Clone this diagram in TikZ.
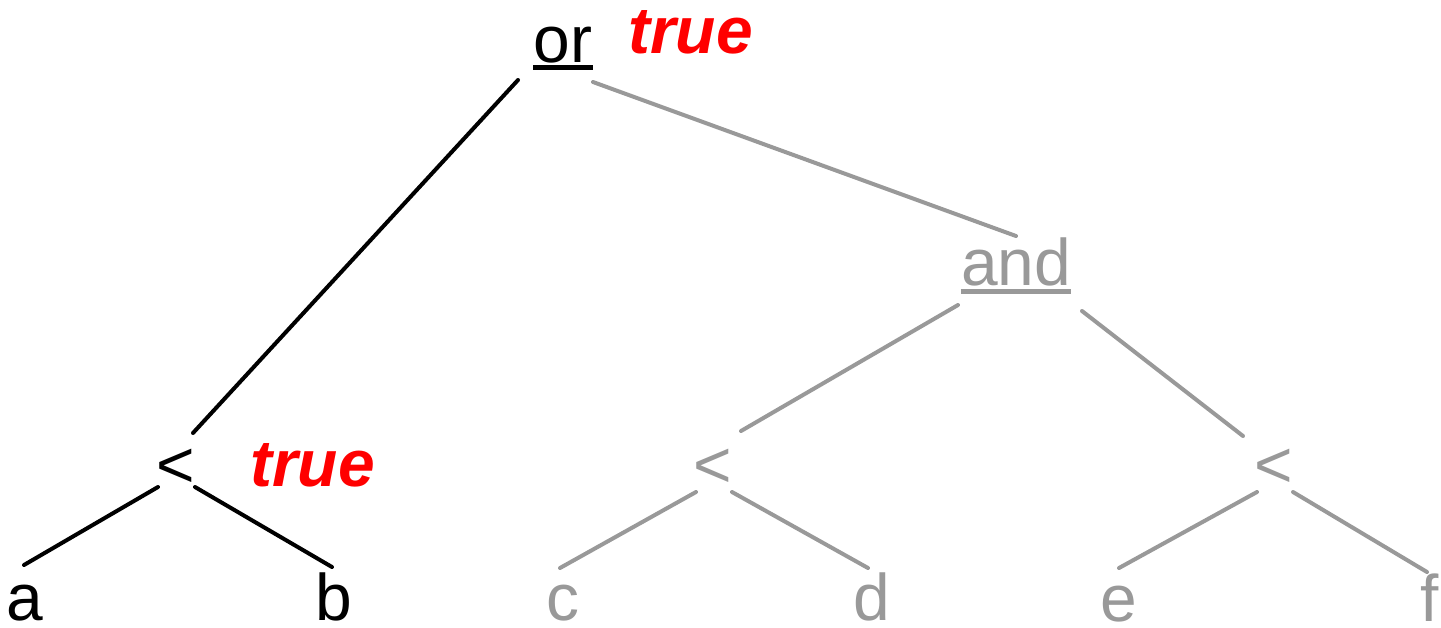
\documentclass[tikz,border=0pt]{standalone}
\usepackage{fontspec}
\setmainfont{Liberation Sans}
\usetikzlibrary{positioning}
\definecolor{treeblack}{RGB}{0, 0, 0}
\definecolor{treegray}{RGB}{153, 153, 153}
\definecolor{valred}{RGB}{255, 0, 0}

\begin{document}
\begin{tikzpicture}[
                    x=0.02cm, y=-0.02cm,
                    lbl/.style={inner sep=0pt, anchor=base, font=\fontsize{37.5}{40}\selectfont},
                    val/.style={inner sep=0pt, anchor=base west, text=valred, font=\fontsize{37.5}{40}\selectfont\bfseries\itshape},
                    edge/.style={line width=0.08cm, line cap=round},
                    uline/.style={line width=0.09cm}
                ]
                \useasboundingbox (0,0) rectangle (1441,627);

                % --- Top: or ---
                \node[lbl, text=treeblack] (or) at (563,62) {or};
                \node[val] (or_val) at (628,53) {true};
                \draw[uline, treeblack] ([yshift=-0.11cm]or.base west) -- ([yshift=-0.11cm]or.base east);

                % --- Evaluated branch ---
                \node[lbl, text=treeblack] (lt) at (176,487) {<};
                \node[val] (lt_val) at (250,486) {true};
                \node[lbl, text=treeblack] (a) at (25,620) {a};
                \node[lbl, text=treeblack] (b) at (334,620) {b};

                \draw[edge, treeblack] ([shift={(-45,18)}]or.base) -- ([shift={(17,-54)}]lt.base);
                \draw[edge, treeblack] ([shift={(-18,0)}]lt.base) -- ([shift={(-1,-55)}]a.base);
                \draw[edge, treeblack] ([shift={(19,0)}]lt.base) -- ([shift={(-2,-53)}]b.base);

                % --- Skipped branch ---
                \node[lbl, text=treegray] (and) at (1016,285) {and};
                \draw[uline, treegray] ([yshift=-0.13cm]and.base west) -- ([yshift=-0.13cm]and.base east);
                \node[lbl, text=treegray] (lm) at (713,487) {<};
                \node[lbl, text=treegray] (rm) at (1274,487) {<};
                \node[lbl, text=treegray] (c) at (563,620) {c};
                \node[lbl, text=treegray] (d) at (872,620) {d};
                \node[lbl, text=treegray] (e) at (1119,621) {e};
                \node[lbl, text=treegray] (f) at (1430,621) {f};

                \draw[edge, treegray] ([shift={(30,20)}]or.base) -- ([shift={(0,-49)}]and.base);
                \draw[edge, treegray] ([shift={(-58,20)}]and.base) -- ([shift={(28,-56)}]lm.base);
                \draw[edge, treegray] ([shift={(66,26)}]and.base) -- ([shift={(-31,-51)}]rm.base);
                \draw[edge, treegray] ([shift={(-17,5)}]lm.base) -- ([shift={(-3,-52)}]c.base);
                \draw[edge, treegray] ([shift={(19,5)}]lm.base) -- ([shift={(-4,-52)}]d.base);
                \draw[edge, treegray] ([shift={(-17,5)}]rm.base) -- ([shift={(0,-53)}]e.base);
                \draw[edge, treegray] ([shift={(19,5)}]rm.base) -- ([shift={(-3,-49)}]f.base);

\end{tikzpicture}
\end{document}
